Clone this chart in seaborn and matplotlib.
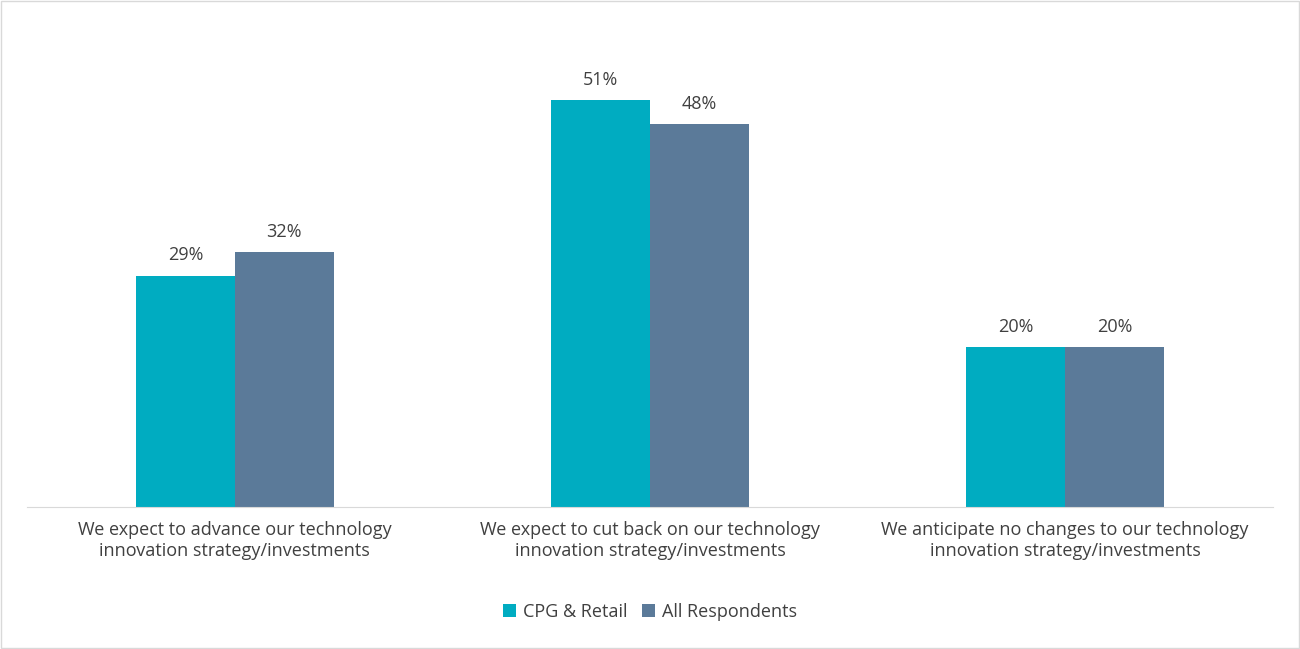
import matplotlib
matplotlib.use("Agg")
import matplotlib.pyplot as plt
import seaborn as sns
import pandas as pd
from matplotlib.patches import Rectangle

categories = ["We expect to advance our technology\ninnovation strategy/investments",
              "We expect to cut back on our technology\ninnovation strategy/investments",
              "We anticipate no changes to our technology\ninnovation strategy/investments"]
series = ["CPG & Retail", "All Respondents"]
cpg = [29, 51, 20]
allr = [32, 48, 20]

df = pd.DataFrame({"cat": categories * 2,
                   "series": [series[0]] * 3 + [series[1]] * 3,
                   "val": cpg + allr})

plt.rcParams["font.family"] = "Open Sans"
fig = plt.figure(figsize=(13, 6.49), dpi=100)
ax = fig.add_axes([0.021, 0.2188, 0.958, 0.750])
sns.barplot(data=df, x="cat", y="val", hue="series", order=categories,
            hue_order=series, palette=["#00ACC1", "#5B7A99"], width=0.477,
            saturation=1, ax=ax, legend=True)
for c in ax.containers:
    ax.bar_label(c, labels=[f"{v:.0f}%" for v in c.datavalues], padding=8,
                 fontsize=13, color="#404040")
ax.set_xlim(-0.5, 2.5)
ax.set_ylim(0, 61)
ax.set_xlabel(""); ax.set_ylabel("")
ax.set_yticks([])
for s in ["top", "right", "left"]:
    ax.spines[s].set_visible(False)
ax.spines["bottom"].set_color("#d9d9d9")
ax.tick_params(axis="x", length=0, pad=10, labelsize=13, labelcolor="#404040")
ax.legend(loc="center", bbox_to_anchor=(0.5, -0.215), ncol=2, frameon=False,
          fontsize=13, handlelength=0.7, handleheight=0.7, columnspacing=0.8,
          handletextpad=0.4, labelcolor="#404040")
fig.patches.append(Rectangle((0.001, 0.002), 0.998, 0.996, transform=fig.transFigure,
                             fill=False, edgecolor="#d9d9d9", lw=1))
fig.savefig("out.png", dpi=100, facecolor="white")
